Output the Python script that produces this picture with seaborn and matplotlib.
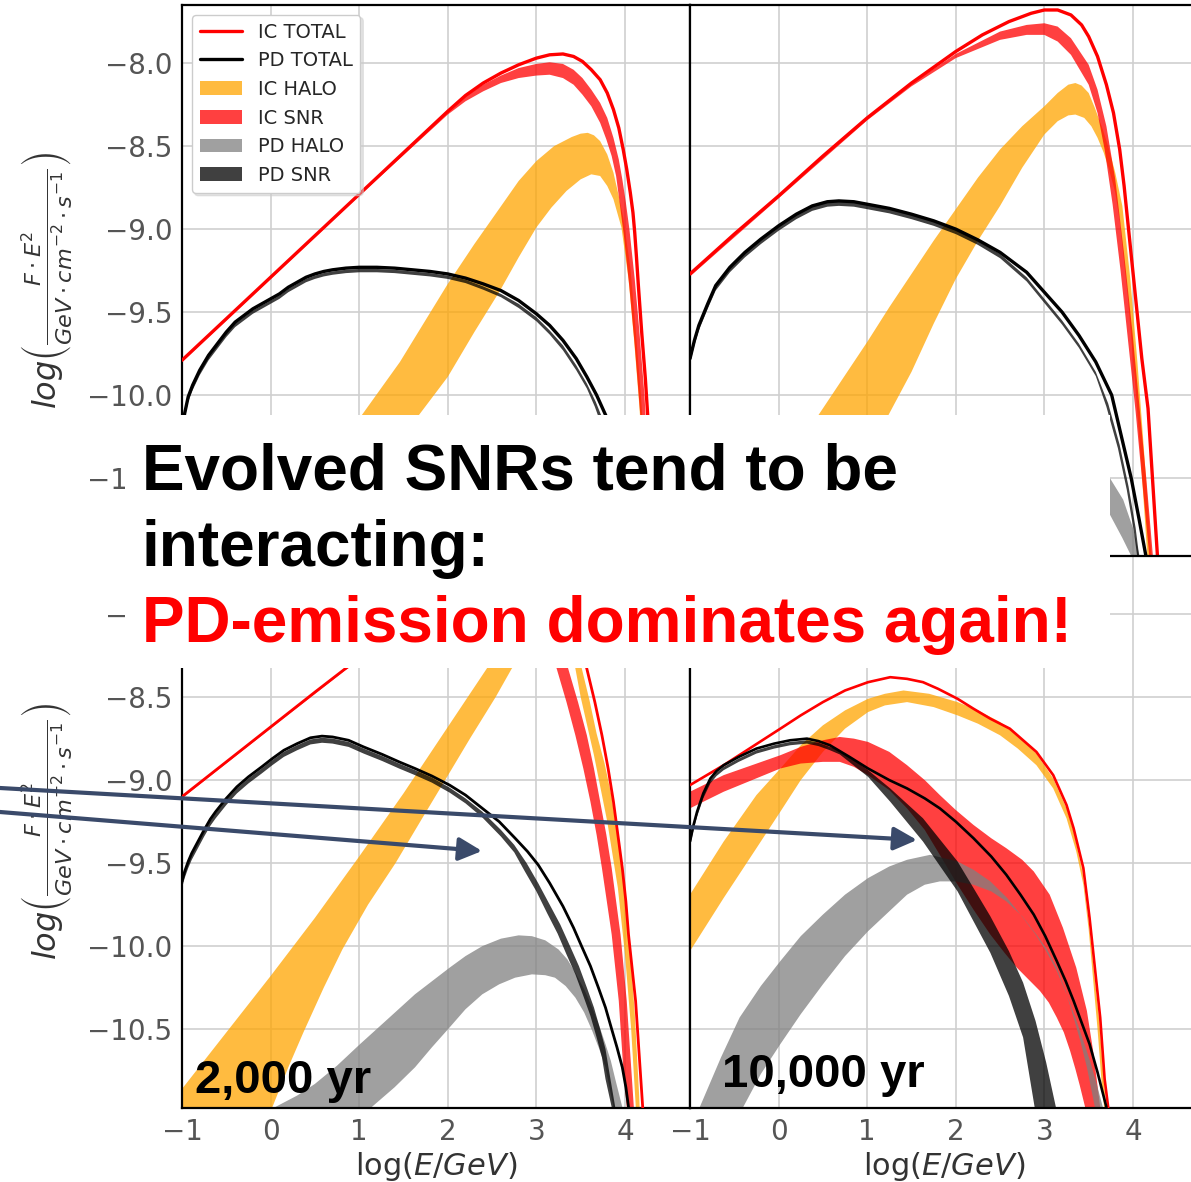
import matplotlib
matplotlib.use("Agg")
import matplotlib.pyplot as plt
import seaborn as sns
from matplotlib.patches import Rectangle, Patch, FancyArrowPatch
from matplotlib.lines import Line2D

# ---------------- data (log E [GeV], log(F*E^2)) ----------------
XTICKS = [-1, 0, 1, 2, 3, 4]
YTICKS = [-10.5, -10.0, -9.5, -9.0, -8.5, -8.0]
XLIM = (-1.0, 4.734)
YLIM = (-10.975, -7.65)
LEGEND_LABELS = ["IC TOTAL", "PD TOTAL", "IC HALO", "IC SNR", "PD HALO", "PD SNR"]
AGE_LABELS = ["2,000 yr", "10,000 yr"]
TEXT_LINES = ["Evolved SNRs tend to be", "interacting:", "PD-emission dominates again!"]

# top-left panel
TL_IC_TOTAL = [(-1.0,-9.79),(-0.5,-9.54),(0.0,-9.29),(0.5,-9.04),(1.0,-8.79),(1.5,-8.54),(2.0,-8.29),(2.2,-8.195),(2.4,-8.12),(2.6,-8.06),(2.8,-8.01),(3.0,-7.97),(3.15,-7.95),(3.3,-7.945),(3.42,-7.96),(3.52,-7.99),(3.62,-8.04),(3.72,-8.10),(3.8,-8.18),(3.87,-8.28),(3.93,-8.39),(3.98,-8.52),(4.02,-8.64),(4.06,-8.78),(4.09,-8.9),(4.11,-9.02),(4.13,-9.17),(4.15,-9.33),(4.17,-9.48),(4.19,-9.63),(4.23,-9.9),(4.26,-10.15),(4.3,-10.55),(4.35,-11.1)]
TL_IC_SNR_UP = [(-1.0,-9.79),(0.0,-9.29),(1.0,-8.79),(2.0,-8.29),(2.2,-8.2),(2.4,-8.13),(2.6,-8.075),(2.8,-8.03),(3.0,-8.005),(3.15,-7.995),(3.3,-8.005),(3.42,-8.04),(3.52,-8.09),(3.62,-8.16),(3.72,-8.24),(3.8,-8.33),(3.87,-8.45),(3.93,-8.58),(3.97,-8.7),(4.01,-8.84),(4.05,-9.0),(4.08,-9.15),(4.11,-9.3),(4.16,-9.6),(4.22,-10.0),(4.27,-10.5),(4.31,-11.1)]
TL_IC_SNR_LO = [(-1.0,-9.80),(0.0,-9.30),(1.0,-8.80),(2.0,-8.31),(2.2,-8.23),(2.4,-8.17),(2.6,-8.12),(2.8,-8.09),(3.0,-8.075),(3.15,-8.07),(3.3,-8.09),(3.42,-8.13),(3.52,-8.19),(3.62,-8.26),(3.72,-8.36),(3.79,-8.46),(3.85,-8.56),(3.9,-8.68),(3.93,-8.8),(3.99,-9.05),(4.05,-9.35),(4.11,-9.7),(4.17,-10.1),(4.22,-10.5),(4.27,-11.1)]
TL_IC_HALO_UP = [(-1.0,-11.6),(0.0,-10.95),(0.5,-10.55),(1.03,-10.12),(1.46,-9.8),(2.0,-9.33),(2.3,-9.09),(2.59,-8.87),(2.8,-8.71),(3.0,-8.59),(3.2,-8.5),(3.4,-8.445),(3.5,-8.425),(3.58,-8.42),(3.65,-8.435),(3.72,-8.47),(3.8,-8.55),(3.87,-8.66),(3.93,-8.8),(3.98,-8.93),(4.06,-9.23),(4.12,-9.6),(4.18,-10.0),(4.25,-10.6),(4.3,-11.1)]
TL_IC_HALO_LO = [(0.5,-11.25),(1.0,-10.6),(1.66,-10.13),(2.0,-9.89),(2.3,-9.62),(2.59,-9.37),(2.8,-9.17),(3.0,-8.99),(3.17,-8.87),(3.34,-8.77),(3.5,-8.7),(3.62,-8.67),(3.72,-8.68),(3.8,-8.74),(3.87,-8.82),(3.96,-8.99),(4.04,-9.3),(4.1,-9.65),(4.16,-10.05),(4.23,-10.6),(4.28,-11.1)]
TL_PD_TOTAL = [(-1.0,-10.22),(-0.97,-10.11),(-0.93,-10.01),(-0.88,-9.94),(-0.8,-9.85),(-0.7,-9.76),(-0.6,-9.69),(-0.5,-9.62),(-0.4,-9.56),(-0.3,-9.52),(-0.2,-9.48),(-0.1,-9.45),(0.0,-9.42),(0.1,-9.39),(0.2,-9.35),(0.3,-9.32),(0.4,-9.29),(0.5,-9.27),(0.6,-9.255),(0.7,-9.245),(0.85,-9.235),(1.0,-9.23),(1.2,-9.23),(1.4,-9.235),(1.6,-9.245),(1.8,-9.255),(2.0,-9.27),(2.2,-9.295),(2.4,-9.33),(2.6,-9.37),(2.8,-9.43),(3.0,-9.51),(3.15,-9.58),(3.3,-9.67),(3.45,-9.78),(3.57,-9.89),(3.68,-10.0),(3.79,-10.13),(3.88,-10.28),(3.95,-10.45),(4.02,-10.62),(4.08,-10.8),(4.15,-11.1)]
TL_PD_SNR_UP = [(-1.0,-10.23),(-0.97,-10.12),(-0.93,-10.02),(-0.88,-9.95),(-0.8,-9.86),(-0.7,-9.77),(-0.6,-9.70),(-0.5,-9.63),(-0.4,-9.57),(-0.3,-9.53),(-0.2,-9.49),(-0.1,-9.46),(0.0,-9.43),(0.1,-9.40),(0.2,-9.36),(0.3,-9.33),(0.4,-9.30),(0.5,-9.28),(0.6,-9.265),(0.7,-9.255),(0.85,-9.245),(1.0,-9.24),(1.2,-9.24),(1.4,-9.245),(1.6,-9.255),(1.8,-9.265),(2.0,-9.28),(2.2,-9.305),(2.4,-9.345),(2.6,-9.39),(2.8,-9.45),(3.0,-9.53),(3.15,-9.61),(3.3,-9.70),(3.45,-9.82),(3.57,-9.93),(3.67,-10.04),(3.76,-10.16),(3.85,-10.31),(3.92,-10.46),(3.99,-10.63),(4.05,-10.81),(4.12,-11.1)]
TL_PD_SNR_LO = [(-1.0,-10.25),(-0.97,-10.14),(-0.93,-10.04),(-0.88,-9.97),(-0.8,-9.88),(-0.7,-9.79),(-0.6,-9.72),(-0.5,-9.65),(-0.4,-9.59),(-0.3,-9.55),(-0.2,-9.51),(-0.1,-9.48),(0.0,-9.45),(0.1,-9.42),(0.2,-9.38),(0.3,-9.35),(0.4,-9.32),(0.5,-9.30),(0.6,-9.285),(0.7,-9.275),(0.85,-9.265),(1.0,-9.26),(1.2,-9.26),(1.4,-9.265),(1.6,-9.275),(1.8,-9.285),(2.0,-9.30),(2.2,-9.325),(2.4,-9.365),(2.6,-9.41),(2.8,-9.475),(3.0,-9.555),(3.15,-9.635),(3.3,-9.73),(3.45,-9.85),(3.57,-9.96),(3.66,-10.07),(3.74,-10.19),(3.83,-10.35),(3.9,-10.5),(3.97,-10.67),(4.03,-10.85),(4.1,-11.1)]
TL_PD_HALO_UP = [(0.5,-11.4),(1.5,-11.0),(2.5,-10.75),(3.0,-10.62),(3.4,-10.58),(3.7,-10.7),(3.95,-11.0),(4.05,-11.2)]
TL_PD_HALO_LO = [(1.5,-11.4),(2.5,-11.05),(3.0,-10.85),(3.4,-10.8),(3.65,-10.95),(3.85,-11.2)]

# top-right panel
TR_IC_TOTAL = [(-1.0,-9.27),(-0.5,-9.03),(0.0,-8.80),(0.5,-8.56),(1.0,-8.33),(1.5,-8.12),(2.0,-7.93),(2.3,-7.83),(2.6,-7.75),(2.85,-7.70),(3.0,-7.68),(3.15,-7.68),(3.3,-7.71),(3.42,-7.77),(3.5,-7.84),(3.6,-7.96),(3.7,-8.13),(3.78,-8.3),(3.85,-8.52),(3.9,-8.74),(3.95,-9.0),(4.0,-9.26),(4.05,-9.52),(4.1,-9.78),(4.17,-10.08),(4.22,-10.5),(4.28,-11.0),(4.3,-11.15)]
TR_IC_SNR_UP = [(-1.0,-9.27),(0.0,-8.80),(1.0,-8.33),(1.5,-8.125),(2.0,-7.945),(2.5,-7.81),(2.8,-7.77),(3.0,-7.76),(3.15,-7.78),(3.3,-7.85),(3.5,-8.01),(3.6,-8.16),(3.7,-8.38),(3.8,-8.7),(3.9,-9.15),(3.99,-9.6),(4.07,-10.05),(4.15,-10.5),(4.23,-11.0),(4.25,-11.15)]
TR_IC_SNR_LO = [(-1.0,-9.285),(0.0,-8.815),(1.0,-8.345),(1.5,-8.14),(2.0,-7.97),(2.5,-7.86),(2.8,-7.83),(3.0,-7.83),(3.15,-7.87),(3.3,-7.95),(3.5,-8.13),(3.6,-8.3),(3.68,-8.52),(3.77,-8.85),(3.86,-9.25),(3.95,-9.7),(4.03,-10.1),(4.11,-10.55),(4.19,-11.0),(4.21,-11.15)]
TR_IC_HALO_UP = [(-1.0,-11.6),(0.0,-10.55),(0.45,-10.12),(0.75,-9.88),(1.0,-9.68),(1.25,-9.47),(1.5,-9.27),(1.75,-9.07),(2.0,-8.88),(2.25,-8.69),(2.5,-8.52),(2.75,-8.38),(3.0,-8.26),(3.15,-8.18),(3.27,-8.13),(3.35,-8.12),(3.42,-8.135),(3.5,-8.18),(3.57,-8.27),(3.66,-8.4),(3.73,-8.52),(3.8,-8.66),(3.88,-8.86),(3.97,-9.3),(4.05,-9.8),(4.12,-10.3),(4.2,-10.9),(4.23,-11.15)]
TR_IC_HALO_LO = [(0.5,-10.85),(1.0,-10.36),(1.22,-10.14),(1.5,-9.86),(1.75,-9.57),(2.0,-9.30),(2.25,-9.07),(2.5,-8.86),(2.75,-8.63),(3.0,-8.43),(3.15,-8.35),(3.27,-8.315),(3.35,-8.31),(3.45,-8.33),(3.53,-8.38),(3.6,-8.45),(3.67,-8.54),(3.73,-8.64),(3.8,-8.78),(3.85,-8.95),(3.94,-9.4),(4.02,-9.9),(4.09,-10.4),(4.16,-10.95),(4.18,-11.15)]
TR_PD_TOTAL = [(-1.0,-9.78),(-0.95,-9.67),(-0.9,-9.58),(-0.8,-9.45),(-0.71,-9.34),(-0.55,-9.23),(-0.38,-9.14),(-0.2,-9.06),(0.0,-8.98),(0.2,-8.91),(0.38,-8.86),(0.55,-8.835),(0.68,-8.83),(0.85,-8.835),(1.0,-8.85),(1.25,-8.875),(1.5,-8.91),(1.75,-8.95),(2.0,-9.0),(2.25,-9.065),(2.5,-9.14),(2.65,-9.2),(2.8,-9.26),(3.0,-9.38),(3.2,-9.5),(3.39,-9.64),(3.58,-9.80),(3.76,-10.0),(3.87,-10.25),(3.98,-10.5),(4.07,-10.75),(4.15,-10.98),(4.18,-11.1)]
TR_PD_SNR_UP = [(-1.0,-9.785),(-0.95,-9.675),(-0.9,-9.585),(-0.8,-9.455),(-0.71,-9.345),(-0.55,-9.235),(-0.38,-9.145),(-0.2,-9.065),(0.0,-8.985),(0.2,-8.915),(0.38,-8.865),(0.55,-8.84),(0.68,-8.835),(0.85,-8.84),(1.0,-8.855),(1.25,-8.88),(1.5,-8.915),(1.75,-8.955),(2.0,-9.005),(2.25,-9.07),(2.5,-9.15),(2.65,-9.22),(2.8,-9.29),(3.0,-9.42),(3.2,-9.55),(3.39,-9.69),(3.58,-9.86),(3.72,-10.05),(3.85,-10.3),(3.95,-10.55),(4.03,-10.8),(4.1,-11.1)]
TR_PD_SNR_LO = [(-1.0,-9.81),(-0.95,-9.70),(-0.9,-9.61),(-0.8,-9.48),(-0.71,-9.37),(-0.55,-9.26),(-0.38,-9.17),(-0.2,-9.09),(0.0,-9.01),(0.2,-8.94),(0.38,-8.89),(0.55,-8.865),(0.68,-8.86),(0.85,-8.865),(1.0,-8.88),(1.25,-8.905),(1.5,-8.94),(1.75,-8.98),(2.0,-9.03),(2.25,-9.095),(2.5,-9.175),(2.65,-9.245),(2.8,-9.315),(3.0,-9.445),(3.2,-9.575),(3.39,-9.715),(3.58,-9.885),(3.7,-10.07),(3.83,-10.32),(3.93,-10.57),(4.01,-10.82),(4.08,-11.1)]
TR_PD_HALO_UP = [(1.5,-11.2),(2.0,-10.9),(2.5,-10.6),(3.0,-10.42),(3.4,-10.38),(3.6,-10.43),(3.74,-10.5),(3.89,-10.63),(4.0,-10.8),(4.08,-10.98),(4.12,-11.15)]
TR_PD_HALO_LO = [(2.2,-11.2),(2.5,-11.0),(3.0,-10.72),(3.4,-10.6),(3.6,-10.64),(3.74,-10.72),(3.88,-10.86),(4.0,-10.99),(4.05,-11.15)]

# bottom-left panel (2,000 yr)
BL_IC_TOTAL = [(-1.0,-9.10),(-0.5,-8.89),(0.0,-8.68),(0.5,-8.47),(0.84,-8.33),(1.5,-8.06),(2.0,-7.88),(2.5,-7.74),(2.8,-7.68),(3.0,-7.68),(3.2,-7.76),(3.35,-7.92),(3.47,-8.12),(3.57,-8.33),(3.66,-8.53),(3.74,-8.73),(3.81,-8.93),(3.87,-9.13),(3.92,-9.33),(3.97,-9.53),(4.01,-9.73),(4.04,-9.93),(4.08,-10.13),(4.12,-10.33),(4.17,-10.73),(4.2,-10.97),(4.22,-11.15)]
BL_IC_SNR_UP = [(-1.0,-9.10),(0.0,-8.68),(0.84,-8.33),(1.5,-8.08),(2.0,-7.92),(2.5,-7.82),(2.8,-7.82),(3.0,-7.88),(3.15,-8.0),(3.27,-8.15),(3.36,-8.33),(3.47,-8.53),(3.57,-8.73),(3.65,-8.93),(3.72,-9.13),(3.79,-9.33),(3.85,-9.53),(3.95,-9.93),(4.02,-10.33),(4.07,-10.73),(4.10,-10.97),(4.12,-11.15)]
BL_IC_SNR_LO = [(-1.0,-9.11),(0.0,-8.69),(0.84,-8.34),(1.5,-8.1),(2.0,-7.95),(2.5,-7.88),(2.75,-7.9),(2.95,-7.98),(3.1,-8.12),(3.23,-8.33),(3.34,-8.53),(3.44,-8.73),(3.53,-8.93),(3.61,-9.13),(3.68,-9.33),(3.74,-9.53),(3.85,-9.93),(3.93,-10.33),(3.98,-10.73),(4.02,-10.97),(4.04,-11.15)]
BL_IC_HALO_UP = [(-1.0,-10.86),(-0.5,-10.52),(0.0,-10.18),(0.5,-9.83),(1.0,-9.46),(1.5,-9.08),(2.0,-8.68),(2.4,-8.36),(2.7,-8.12),(2.95,-7.99),(3.15,-7.94),(3.3,-7.97),(3.42,-8.1),(3.5,-8.3),(3.6,-8.52),(3.68,-8.72),(3.77,-8.9),(3.85,-9.1),(3.96,-9.5),(4.04,-9.9),(4.11,-10.4),(4.16,-10.9),(4.18,-11.15)]
BL_IC_HALO_LO = [(-1.0,-12.3),(-0.2,-11.27),(0.02,-10.97),(0.2,-10.73),(0.37,-10.52),(0.6,-10.25),(0.81,-10.02),(1.1,-9.75),(1.41,-9.5),(1.7,-9.24),(1.97,-9.0),(2.25,-8.75),(2.54,-8.5),(2.72,-8.33),(2.9,-8.2),(3.05,-8.14),(3.2,-8.12),(3.32,-8.16),(3.42,-8.27),(3.5,-8.5),(3.65,-8.85),(3.8,-9.25),(3.92,-9.65),(4.0,-10.05),(4.07,-10.5),(4.12,-10.95),(4.14,-11.15)]
BL_PD_TOTAL = [(-1.0,-9.61),(-0.97,-9.55),(-0.93,-9.49),(-0.89,-9.44),(-0.82,-9.37),(-0.75,-9.3),(-0.68,-9.235),(-0.62,-9.19),(-0.5,-9.11),(-0.38,-9.04),(-0.25,-8.98),(-0.1,-8.92),(0.02,-8.87),(0.15,-8.82),(0.3,-8.78),(0.45,-8.745),(0.58,-8.735),(0.7,-8.74),(0.88,-8.76),(1.05,-8.8),(1.26,-8.845),(1.45,-8.89),(1.63,-8.93),(1.82,-8.975),(2.02,-9.03),(2.2,-9.09),(2.39,-9.17),(2.58,-9.25),(2.76,-9.35),(2.9,-9.43),(3.02,-9.51),(3.15,-9.62),(3.3,-9.76),(3.42,-9.89),(3.51,-10.0),(3.61,-10.12),(3.7,-10.25),(3.78,-10.37),(3.85,-10.5),(3.91,-10.61),(3.97,-10.73),(4.01,-10.85),(4.04,-10.97),(4.07,-11.15)]
BL_PD_SNR_UP = [(-1.0,-9.62),(-0.97,-9.56),(-0.93,-9.50),(-0.89,-9.45),(-0.82,-9.38),(-0.75,-9.31),(-0.68,-9.245),(-0.62,-9.2),(-0.5,-9.12),(-0.38,-9.05),(-0.25,-8.99),(-0.1,-8.93),(0.02,-8.88),(0.15,-8.83),(0.3,-8.79),(0.45,-8.755),(0.58,-8.745),(0.7,-8.75),(0.88,-8.77),(1.05,-8.81),(1.26,-8.855),(1.45,-8.90),(1.63,-8.94),(1.82,-8.985),(2.02,-9.045),(2.2,-9.11),(2.39,-9.19),(2.6,-9.3),(2.75,-9.39),(2.89,-9.5),(3.02,-9.62),(3.15,-9.75),(3.27,-9.87),(3.38,-10.0),(3.48,-10.12),(3.57,-10.25),(3.65,-10.37),(3.72,-10.5),(3.78,-10.62),(3.82,-10.75),(3.89,-10.97),(3.92,-11.15)]
BL_PD_SNR_LO = [(-1.0,-9.65),(-0.97,-9.59),(-0.93,-9.53),(-0.89,-9.48),(-0.82,-9.41),(-0.75,-9.34),(-0.68,-9.275),(-0.62,-9.23),(-0.5,-9.15),(-0.38,-9.08),(-0.25,-9.02),(-0.1,-8.96),(0.02,-8.91),(0.15,-8.86),(0.3,-8.82),(0.45,-8.785),(0.58,-8.775),(0.7,-8.78),(0.88,-8.80),(1.05,-8.84),(1.26,-8.885),(1.45,-8.93),(1.63,-8.97),(1.82,-9.015),(2.02,-9.075),(2.2,-9.14),(2.39,-9.225),(2.6,-9.34),(2.75,-9.435),(2.87,-9.55),(3.0,-9.67),(3.12,-9.8),(3.24,-9.925),(3.34,-10.05),(3.44,-10.17),(3.53,-10.3),(3.61,-10.42),(3.68,-10.55),(3.74,-10.67),(3.78,-10.8),(3.85,-10.97),(3.88,-11.15)]
BL_PD_HALO_UP = [(-0.4,-11.2),(0.05,-10.97),(0.3,-10.9),(0.5,-10.83),(0.75,-10.72),(1.01,-10.59),(1.3,-10.45),(1.63,-10.29),(2.02,-10.13),(2.2,-10.06),(2.39,-10.0),(2.6,-9.955),(2.8,-9.935),(2.95,-9.94),(3.1,-9.965),(3.25,-10.02),(3.35,-10.08),(3.44,-10.16),(3.54,-10.26),(3.63,-10.37),(3.71,-10.48),(3.78,-10.59),(3.84,-10.69),(3.89,-10.8),(3.97,-10.97),(4.0,-11.15)]
BL_PD_HALO_LO = [(0.9,-11.1),(1.14,-10.97),(1.4,-10.85),(1.63,-10.73),(1.82,-10.61),(2.02,-10.49),(2.2,-10.38),(2.39,-10.29),(2.58,-10.23),(2.76,-10.19),(2.95,-10.17),(3.1,-10.175),(3.21,-10.19),(3.33,-10.24),(3.44,-10.31),(3.54,-10.4),(3.63,-10.51),(3.71,-10.62),(3.78,-10.73),(3.87,-10.97),(3.9,-11.15)]

# bottom-right panel (10,000 yr)
BR_IC_TOTAL = [(-1.0,-9.03),(-0.62,-8.91),(-0.3,-8.8),(0.02,-8.69),(0.25,-8.61),(0.5,-8.53),(0.75,-8.46),(1.01,-8.41),(1.26,-8.38),(1.45,-8.39),(1.63,-8.41),(1.8,-8.45),(2.02,-8.51),(2.2,-8.57),(2.39,-8.63),(2.61,-8.69),(2.91,-8.83),(3.1,-8.97),(3.25,-9.15),(3.33,-9.29),(3.44,-9.53),(3.51,-9.83),(3.57,-10.13),(3.63,-10.43),(3.68,-10.8),(3.72,-10.97),(3.74,-11.15)]
BR_IC_HALO_UP = [(-1.0,-9.69),(-0.62,-9.37),(-0.25,-9.09),(0.02,-8.93),(0.25,-8.79),(0.5,-8.67),(0.75,-8.58),(1.01,-8.51),(1.2,-8.48),(1.41,-8.46),(1.7,-8.48),(2.02,-8.53),(2.25,-8.58),(2.5,-8.65),(2.7,-8.73),(2.91,-8.84),(3.1,-8.99),(3.25,-9.17),(3.33,-9.31),(3.43,-9.55),(3.5,-9.85),(3.56,-10.15),(3.62,-10.45),(3.67,-10.8),(3.7,-10.97),(3.72,-11.15)]
BR_IC_HALO_LO = [(-1.0,-10.03),(-0.62,-9.71),(-0.25,-9.41),(0.02,-9.19),(0.25,-9.0),(0.5,-8.83),(0.75,-8.69),(1.01,-8.59),(1.2,-8.55),(1.45,-8.53),(1.75,-8.56),(2.02,-8.61),(2.25,-8.66),(2.5,-8.73),(2.7,-8.81),(2.91,-8.91),(3.1,-9.05),(3.25,-9.23),(3.36,-9.43),(3.44,-9.63),(3.5,-9.9),(3.55,-10.2),(3.6,-10.5),(3.65,-10.85),(3.68,-11.0),(3.7,-11.15)]
BR_IC_SNR_UP = [(-1.0,-9.07),(-0.62,-8.97),(-0.3,-8.91),(0.02,-8.85),(0.25,-8.8),(0.5,-8.76),(0.69,-8.74),(0.85,-8.75),(1.01,-8.77),(1.25,-8.83),(1.45,-8.91),(1.65,-9.0),(1.82,-9.09),(2.0,-9.18),(2.2,-9.27),(2.4,-9.35),(2.57,-9.41),(2.75,-9.48),(2.88,-9.55),(3.06,-9.69),(3.21,-9.89),(3.36,-10.13),(3.48,-10.39),(3.55,-10.63),(3.63,-10.97),(3.65,-11.15)]
BR_IC_SNR_LO = [(-1.0,-9.17),(-0.62,-9.07),(-0.3,-9.0),(0.02,-8.93),(0.25,-8.9),(0.5,-8.89),(0.69,-8.89),(0.85,-8.92),(1.01,-8.97),(1.25,-9.06),(1.45,-9.17),(1.65,-9.3),(1.82,-9.45),(2.02,-9.63),(2.2,-9.78),(2.39,-9.93),(2.55,-10.04),(2.69,-10.13),(2.82,-10.2),(2.95,-10.27),(3.05,-10.34),(3.14,-10.43),(3.22,-10.52),(3.29,-10.63),(3.35,-10.74),(3.4,-10.84),(3.46,-10.97),(3.48,-11.15)]
BR_PD_TOTAL = [(-1.0,-9.37),(-0.96,-9.27),(-0.92,-9.19),(-0.85,-9.08),(-0.77,-8.99),(-0.7,-8.945),(-0.62,-8.91),(-0.45,-8.86),(-0.25,-8.81),(-0.05,-8.78),(0.13,-8.76),(0.32,-8.75),(0.45,-8.765),(0.58,-8.79),(0.8,-8.86),(1.01,-8.93),(1.25,-9.0),(1.45,-9.05),(1.65,-9.11),(1.82,-9.17),(2.0,-9.25),(2.2,-9.35),(2.4,-9.46),(2.57,-9.57),(2.73,-9.69),(2.88,-9.81),(3.01,-9.94),(3.14,-10.09),(3.24,-10.21),(3.33,-10.33),(3.42,-10.46),(3.51,-10.59),(3.6,-10.76),(3.7,-10.97),(3.72,-11.15)]
BR_PD_SNR_UP = [(-1.0,-9.38),(-0.96,-9.28),(-0.92,-9.2),(-0.85,-9.09),(-0.77,-9.0),(-0.7,-8.955),(-0.62,-8.92),(-0.45,-8.87),(-0.25,-8.82),(-0.05,-8.79),(0.13,-8.77),(0.32,-8.76),(0.45,-8.775),(0.58,-8.8),(0.69,-8.82),(1.01,-8.94),(1.26,-9.05),(1.63,-9.23),(2.02,-9.49),(2.2,-9.65),(2.39,-9.82),(2.6,-10.03),(2.76,-10.22),(2.9,-10.45),(3.02,-10.7),(3.13,-10.97),(3.16,-11.15)]
BR_PD_SNR_LO = [(-1.0,-9.40),(-0.96,-9.30),(-0.92,-9.22),(-0.85,-9.11),(-0.77,-9.02),(-0.7,-8.975),(-0.62,-8.94),(-0.45,-8.89),(-0.25,-8.84),(-0.05,-8.81),(0.13,-8.79),(0.32,-8.78),(0.45,-8.795),(0.58,-8.82),(0.69,-8.845),(1.01,-8.98),(1.26,-9.13),(1.63,-9.37),(2.02,-9.67),(2.2,-9.85),(2.39,-10.04),(2.6,-10.3),(2.76,-10.55),(2.89,-10.97),(2.92,-11.15)]
BR_PD_HALO_UP = [(-1.0,-11.15),(-0.89,-10.97),(-0.65,-10.67),(-0.44,-10.43),(-0.2,-10.24),(0.02,-10.09),(0.25,-9.94),(0.5,-9.81),(0.75,-9.69),(1.01,-9.59),(1.25,-9.52),(1.45,-9.48),(1.71,-9.45),(2.02,-9.49),(2.2,-9.54),(2.39,-9.61),(2.58,-9.71),(2.76,-9.83),(2.9,-9.93),(3.02,-10.03),(3.14,-10.15),(3.25,-10.29),(3.35,-10.43),(3.44,-10.57),(3.52,-10.7),(3.59,-10.83),(3.66,-10.97),(3.7,-11.15)]
BR_PD_HALO_LO = [(-0.55,-11.2),(-0.4,-10.97),(-0.2,-10.77),(0.02,-10.59),(0.25,-10.41),(0.5,-10.23),(0.75,-10.06),(1.01,-9.91),(1.25,-9.79),(1.45,-9.69),(1.65,-9.63),(1.82,-9.61),(2.0,-9.61),(2.2,-9.63),(2.4,-9.67),(2.57,-9.73),(2.75,-9.82),(2.91,-9.93),(3.03,-10.02),(3.14,-10.13),(3.24,-10.27),(3.33,-10.43),(3.41,-10.58),(3.48,-10.73),(3.57,-10.97),(3.6,-11.15)]

# ---------------- styling ----------------
sns.set_style("whitegrid")
plt.rcParams["font.family"] = ["DejaVu Sans"]
plt.rcParams["mathtext.fontset"] = "dejavusans"

W_PX, H_PX = 1191, 1182
fig = plt.figure(figsize=(W_PX / 100, H_PX / 100), dpi=100)


def fx(px):
    return px / W_PX


def fy(py):
    return 1 - py / H_PX


AX_W = fx(508)
AX_H = 552 / H_PX
ax_tl = fig.add_axes([fx(182), fy(557), AX_W, AX_H])
ax_tr = fig.add_axes([fx(690), fy(557), AX_W, AX_H])
ax_bl = fig.add_axes([fx(182), fy(1108), AX_W, AX_H])
ax_br = fig.add_axes([fx(690), fy(1108), AX_W, AX_H])

FILL_ALPHA = 0.75


def band(ax, up, lo, color):
    xs = [p[0] for p in up] + [p[0] for p in lo[::-1]]
    ys = [p[1] for p in up] + [p[1] for p in lo[::-1]]
    ax.fill(xs, ys, color=color, alpha=FILL_ALPHA, lw=0, zorder=2)


def line(ax, pts, color, lw):
    sns.lineplot(x=[p[0] for p in pts], y=[p[1] for p in pts], ax=ax, color=color,
                 linewidth=lw, sort=False, estimator=None, zorder=3,
                 solid_joinstyle="round", solid_capstyle="round")


panels = [
    (ax_tl, TL_IC_TOTAL, TL_PD_TOTAL, (TL_IC_HALO_UP, TL_IC_HALO_LO), (TL_IC_SNR_UP, TL_IC_SNR_LO),
     (TL_PD_HALO_UP, TL_PD_HALO_LO), (TL_PD_SNR_UP, TL_PD_SNR_LO), 2.4),
    (ax_tr, TR_IC_TOTAL, TR_PD_TOTAL, (TR_IC_HALO_UP, TR_IC_HALO_LO), (TR_IC_SNR_UP, TR_IC_SNR_LO),
     (TR_PD_HALO_UP, TR_PD_HALO_LO), (TR_PD_SNR_UP, TR_PD_SNR_LO), 2.4),
    (ax_bl, BL_IC_TOTAL, BL_PD_TOTAL, (BL_IC_HALO_UP, BL_IC_HALO_LO), (BL_IC_SNR_UP, BL_IC_SNR_LO),
     (BL_PD_HALO_UP, BL_PD_HALO_LO), (BL_PD_SNR_UP, BL_PD_SNR_LO), 2.0),
    (ax_br, BR_IC_TOTAL, BR_PD_TOTAL, (BR_IC_HALO_UP, BR_IC_HALO_LO), (BR_IC_SNR_UP, BR_IC_SNR_LO),
     (BR_PD_HALO_UP, BR_PD_HALO_LO), (BR_PD_SNR_UP, BR_PD_SNR_LO), 1.9),
]

for ax, ic_tot, pd_tot, ic_halo, ic_snr, pd_halo, pd_snr, lw in panels:
    band(ax, *ic_halo, "orange")
    band(ax, *ic_snr, "red")
    band(ax, *pd_halo, "grey")
    band(ax, *pd_snr, "black")
    line(ax, ic_tot, "red", lw)
    line(ax, pd_tot, "black", lw)
    ax.set_xlim(*XLIM)
    ax.set_ylim(*YLIM)
    ax.set_xticks(XTICKS)
    ax.set_yticks(YTICKS)
    ax.grid(True, color="#cfcfcf", linewidth=1.2)
    ax.set_axisbelow(True)
    for s in ax.spines.values():
        s.set_color("black")
        s.set_linewidth(1.6)
    ax.tick_params(labelsize=20, labelcolor="#555555", length=0, pad=7)
    ax.set_xlabel("")
    ax.set_ylabel("")

for ax in (ax_tl, ax_tr):
    ax.tick_params(labelbottom=False)
for ax in (ax_tr, ax_br):
    ax.tick_params(labelleft=False)

ylab = r"$log\left(\frac{F\cdot E^2}{GeV\cdot cm^{-2}\cdot s^{-1}}\right)$"
for ax in (ax_tl, ax_bl):
    ax.set_ylabel(ylab, fontsize=23, color="#333333")
    ax.yaxis.set_label_coords(-0.213, 0.5)
for ax in (ax_bl, ax_br):
    ax.set_xlabel(r"log($E/GeV$)", fontsize=22, color="#333333", labelpad=3)

# legend
handles = [
    Line2D([], [], color="red", lw=2.4),
    Line2D([], [], color="black", lw=2.4),
    Patch(facecolor="orange", alpha=FILL_ALPHA, lw=0),
    Patch(facecolor="red", alpha=FILL_ALPHA, lw=0),
    Patch(facecolor="grey", alpha=FILL_ALPHA, lw=0),
    Patch(facecolor="black", alpha=FILL_ALPHA, lw=0),
]
leg = ax_tl.legend(handles, LEGEND_LABELS, loc="upper left", fontsize=14, frameon=True,
                   fancybox=True, framealpha=1, facecolor="white", edgecolor="#cccccc",
                   handlelength=2.2, labelspacing=0.5, borderaxespad=0.5,
                   shadow={"shade": 0.2})
leg.set_zorder(5)

# overlay white box with text
fig.add_artist(Rectangle((fx(125), fy(668)), fx(1110) - fx(125), fy(415) - fy(668),
                         transform=fig.transFigure, facecolor="white", edgecolor="none", zorder=10))
fig.text(fx(142), fy(490), TEXT_LINES[0], fontsize=46, fontweight="bold", family="Liberation Sans",
         color="black", va="baseline", ha="left", zorder=11)
fig.text(fx(142), fy(566), TEXT_LINES[1], fontsize=46, fontweight="bold", family="Liberation Sans",
         color="black", va="baseline", ha="left", zorder=11)
fig.text(fx(142), fy(642), TEXT_LINES[2], fontsize=46, fontweight="bold", family="Liberation Sans",
         color="#ff0000", va="baseline", ha="left", zorder=11)

# age labels
fig.text(fx(195), fy(1093), AGE_LABELS[0], fontsize=34, fontweight="bold", family="Liberation Sans",
         color="black", va="baseline", ha="left", zorder=11)
fig.text(fx(722), fy(1087), AGE_LABELS[1], fontsize=34, fontweight="bold", family="Liberation Sans",
         color="black", va="baseline", ha="left", zorder=11)

# arrows
ARROW_COLOR = "#3a4a6a"
for (x0, y0), (x1, y1) in [((0, 788), (917, 840)), ((0, 812), (482, 851))]:
    arr = FancyArrowPatch((fx(x0), fy(y0)), (fx(x1), fy(y1)), transform=fig.transFigure,
                          arrowstyle="-|>,head_length=0.7,head_width=0.35", mutation_scale=20,
                          color=ARROW_COLOR, lw=3.0, shrinkA=0, shrinkB=0, zorder=12)
    fig.add_artist(arr)

fig.savefig("out.png", dpi=100)
